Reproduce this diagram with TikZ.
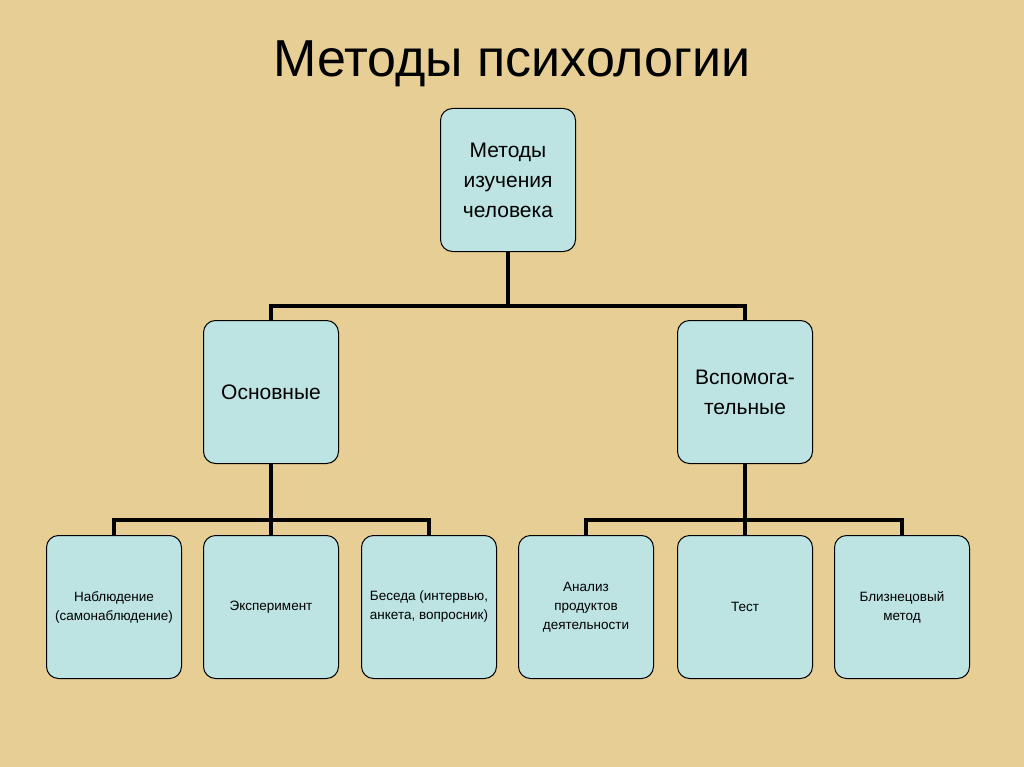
\documentclass[tikz,border=0pt]{standalone}
\usepackage{fontspec}
\setmainfont{Liberation Sans}
\begin{document}
\begin{tikzpicture}[x=1pt,y=-1pt,
  box/.style={draw=black,line width=1pt,fill=boxc,rounded corners=12pt,minimum width=135pt,minimum height=143pt,align=center,inner sep=2pt},
  big/.style={box,font=\fontsize{21}{30}\selectfont},
  small/.style={box,font=\fontsize{13.5}{19}\selectfont},
  conn/.style={line width=4pt,draw=black}]
\definecolor{bg}{HTML}{E6CE94}
\definecolor{boxc}{HTML}{BDE3E3}
\fill[bg] (0,0) rectangle (1024,767);
\useasboundingbox (0,0) rectangle (1024,767);
\node[font=\fontsize{52}{60}\selectfont] (title) at (512,64) {Методы психологии};
\node[big] (top) at (508,180) {Методы\\изучения\\человека};
\node[big] (osn) at (271,392) {Основные};
\node[big] (vsp) at (745,392) {Вспомога-\\тельные};
\node[small] (b1) at (114,607) {Наблюдение\\(самонаблюдение)};
\node[small] (b2) at (271,607) {Эксперимент};
\node[small] (b3) at (429,607) {Беседа (интервью,\\анкета, вопросник)};
\node[small] (b4) at (586,607) {Анализ\\продуктов\\деятельности};
\node[small] (b5) at (745,607) {Тест};
\node[small] (b6) at (902,607) {Близнецовый\\метод};
\draw[conn] (top.south) -- ++(0,54) coordinate (j1);
\draw[conn] (osn.north) |- (j1) -| (vsp.north);
\draw[conn] (osn.south) -- ++(0,56) coordinate (j2);
\draw[conn] (b1.north) |- (j2) -| (b3.north);
\draw[conn] (j2) -- (b2.north);
\draw[conn] (vsp.south) -- ++(0,56) coordinate (j3);
\draw[conn] (b4.north) |- (j3) -| (b6.north);
\draw[conn] (j3) -- (b5.north);
\end{tikzpicture}
\end{document}
